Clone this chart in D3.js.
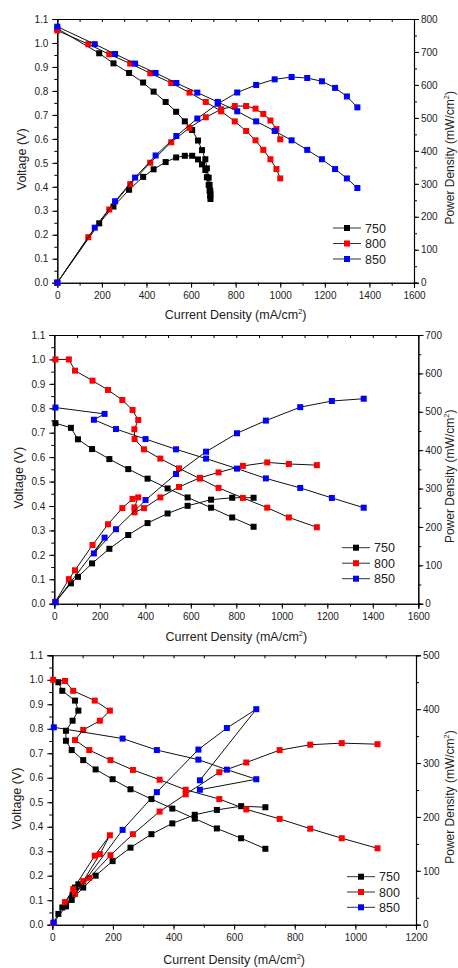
<!DOCTYPE html>
<html>
<head>
<meta charset="utf-8">
<script src="https://cdnjs.cloudflare.com/ajax/libs/d3/7.8.5/d3.min.js"></script>
<style>
  body { margin: 0; background: #fff; }
  text { font-family: "Liberation Sans", Arial, sans-serif; fill: #222; }
</style>
</head>
<body>
<script>

/* Polarisation (V) and power density (P) curves at 750 / 800 / 850 C, three cells */

var series_names = ["750", "800", "850"];
var series_colors = ["#000000", "#ff0000", "#0000ff"];

// ---- top panel
var a750_I = [0, 188, 252, 322, 385, 432, 486, 533, 572, 605, 631, 649, 664, 671, 679, 683, 686, 687];
var a750_V = [1.06, 0.957, 0.915, 0.875, 0.835, 0.797, 0.754, 0.713, 0.673, 0.637, 0.593, 0.553, 0.515, 0.477, 0.438, 0.408, 0.384, 0.370];
var a750_P = [0, 180, 231, 282, 321, 344, 366, 380, 385, 385, 374, 359, 342, 320, 297, 279, 263, 254];

var a800_I = [0, 139, 233, 327, 417, 511, 593, 666, 735, 796, 847, 889, 924, 956, 983, 1000];
var a800_V = [1.052, 0.995, 0.953, 0.914, 0.874, 0.833, 0.793, 0.754, 0.715, 0.673, 0.633, 0.594, 0.554, 0.515, 0.474, 0.435];
var a800_P = [0, 138, 222, 299, 364, 426, 470, 502, 526, 536, 536, 528, 512, 492, 466, 435];

var a850_I = [0, 168, 259, 349, 441, 534, 628, 720, 807, 892, 975, 1051, 1121, 1187, 1246, 1299, 1346];
var a850_V = [1.068, 0.995, 0.954, 0.914, 0.875, 0.833, 0.793, 0.754, 0.715, 0.673, 0.633, 0.594, 0.554, 0.515, 0.474, 0.435, 0.395];
var a850_P = [0, 167, 247, 319, 386, 445, 498, 543, 577, 600, 617, 624, 621, 611, 591, 565, 532];

// ---- middle panel
var b750_I = [5, 73, 104, 166, 242, 325, 410, 498, 586, 689, 782, 876];
var b750_V = [0.739, 0.720, 0.673, 0.633, 0.592, 0.551, 0.512, 0.472, 0.435, 0.393, 0.353, 0.315];
var b750_P = [4, 53, 70, 105, 143, 179, 210, 235, 255, 271, 276, 276];

var b800_I = [5, 64, 91, 168, 236, 299, 344, 369, 352, 353, 394, 466, 548, 640, 722, 829, 936, 1031, 1154];
var b800_V = [1.0, 1.0, 0.954, 0.913, 0.875, 0.834, 0.793, 0.752, 0.714, 0.674, 0.632, 0.594, 0.554, 0.512, 0.474, 0.433, 0.393, 0.353, 0.313];
var b800_P = [5, 64, 87, 153, 207, 249, 273, 277, 251, 238, 249, 277, 304, 328, 342, 359, 368, 364, 361];

var b850_I = [5, 221, 174, 271, 401, 535, 667, 803, 930, 1081, 1220, 1360];
var b850_V = [0.803, 0.777, 0.753, 0.715, 0.674, 0.632, 0.594, 0.553, 0.513, 0.474, 0.433, 0.393];
var b850_P = [4, 172, 131, 194, 270, 338, 396, 444, 477, 512, 528, 534];

// ---- bottom panel
var c750_I = [20, 33, 75, 86, 67, 45, 45, 64, 102, 143, 199, 258, 327, 396, 470, 543, 623, 703];
var c750_V = [0.990, 0.955, 0.915, 0.874, 0.833, 0.792, 0.751, 0.713, 0.672, 0.634, 0.594, 0.553, 0.513, 0.474, 0.433, 0.393, 0.353, 0.310];
var c750_P = [20, 32, 69, 75, 56, 36, 34, 46, 69, 91, 118, 143, 168, 188, 204, 213, 220, 218];

var c800_I = [3, 42, 69, 140, 190, 157, 102, 75, 122, 192, 266, 354, 440, 551, 640, 750, 851, 955, 1073];
var c800_V = [1.0, 0.995, 0.955, 0.915, 0.874, 0.833, 0.795, 0.754, 0.713, 0.672, 0.632, 0.592, 0.551, 0.513, 0.471, 0.432, 0.392, 0.353, 0.312];
var c800_P = [3, 42, 66, 128, 166, 131, 81, 57, 87, 129, 168, 210, 242, 283, 301, 324, 334, 337, 335];

var c850_I = [5, 232, 345, 482, 576, 673, 487];
var c850_V = [0.806, 0.760, 0.713, 0.674, 0.633, 0.594, 0.551];
var c850_P = [4, 176, 246, 325, 365, 400, 268];

var svg = d3.select("body").append("svg")
    .attr("width", 458)
    .attr("height", 968);

// zip current with voltage / power
function pts(I, Y) {
  return I.map(function(d, i) { return [d, Y[i]]; });
}

function axisStyle(sel) {
  sel.selectAll("path").attr("stroke", "#000").attr("stroke-width", 1.1);
  sel.selectAll("line").attr("stroke", "#000").attr("stroke-width", 1);
  sel.selectAll("text")
      .attr("font-family", "'Liberation Sans', Arial, sans-serif")
      .attr("font-size", 10)
      .attr("fill", "#222");
}

function drawPanel(o) {
  var x = d3.scaleLinear().domain([0, o.xMax]).range([o.l, o.r]);
  var y = d3.scaleLinear().domain([0, 1.1]).range([o.b, o.t]);
  var y2 = d3.scaleLinear().domain([0, o.pMax]).range([o.b, o.t]);
  var g = svg.append("g");

  // minor ticks first, no labels
  g.append("g").attr("transform", "translate(0," + o.b + ")")
      .call(d3.axisBottom(x).tickValues(d3.range(0, o.xMax + 1, 100)).tickSize(3).tickFormat(""))
      .call(axisStyle);
  g.append("g").attr("transform", "translate(" + o.l + ",0)")
      .call(d3.axisLeft(y).tickValues(d3.range(0, 1.1001, 0.05)).tickSize(3).tickFormat(""))
      .call(axisStyle);
  g.append("g").attr("transform", "translate(" + o.r + ",0)")
      .call(d3.axisRight(y2).tickValues(d3.range(0, o.pMax + 1, 50)).tickSize(3).tickFormat(""))
      .call(axisStyle);
  // top frame, ticks inward
  g.append("g").attr("transform", "translate(0," + o.t + ")")
      .call(d3.axisBottom(x).tickValues(d3.range(0, o.xMax + 1, 100)).tickSize(3).tickFormat("").tickSizeOuter(0))
      .call(axisStyle);

  // major ticks + labels
  g.append("g").attr("transform", "translate(0," + o.b + ")")
      .call(d3.axisBottom(x).tickValues(d3.range(0, o.xMax + 1, 200)).tickSize(5).tickPadding(4).tickFormat(d3.format("d")))
      .call(axisStyle);
  g.append("g").attr("transform", "translate(" + o.l + ",0)")
      .call(d3.axisLeft(y).tickValues(d3.range(0, 1.1001, 0.1)).tickSize(5).tickPadding(4).tickFormat(d3.format(".1f")))
      .call(axisStyle);
  g.append("g").attr("transform", "translate(" + o.r + ",0)")
      .call(d3.axisRight(y2).tickValues(d3.range(0, o.pMax + 1, 100)).tickSize(5).tickPadding(2).tickFormat(d3.format("d")))
      .call(axisStyle);

  // axis titles
  var xt = g.append("text")
      .attr("x", (o.l + o.r) / 2).attr("y", o.b + o.xtDy)
      .attr("text-anchor", "middle").attr("font-size", 12.5);
  xt.append("tspan").text("Current Density (mA/cm");
  xt.append("tspan").attr("font-size", 7.5).attr("dy", -5).text("2");
  xt.append("tspan").attr("dy", 5).text(")");

  var cy = (o.t + o.b) / 2;
  g.append("text")
      .attr("transform", "translate(" + (o.l - 35.5) + "," + (cy + 8.5) + ") rotate(-90)")
      .attr("text-anchor", "middle").attr("dy", "0.35em").attr("font-size", 12.5)
      .text("Voltage (V)");

  var yt = g.append("text")
      .attr("transform", "translate(" + (o.r + o.rtDx) + "," + (cy + 7) + ") rotate(-90)")
      .attr("text-anchor", "middle").attr("dy", "0.3em").attr("font-size", 12);
  yt.append("tspan").text("Power Density (mW/cm");
  yt.append("tspan").attr("font-size", 7.5).attr("dy", -5).text("2");
  yt.append("tspan").attr("dy", 5).text(")");

  var lineV = d3.line().x(function(d) { return x(d[0]); }).y(function(d) { return y(d[1]); });
  var lineP = d3.line().x(function(d) { return x(d[0]); }).y(function(d) { return y2(d[1]); });

  o.series.forEach(function(s, k) {
    var v = pts(s[0], s[1]);
    var p = pts(s[0], s[2]);
    [[v, lineV, y], [p, lineP, y2]].forEach(function(c) {
      g.append("path")
          .datum(c[0])
          .attr("fill", "none")
          .attr("stroke", "#111")
          .attr("stroke-width", 1)
          .attr("d", c[1]);
      g.selectAll(null)
          .data(c[0])
          .enter().append("rect")
          .attr("x", function(d) { return x(d[0]) - 3; })
          .attr("y", function(d) { return c[2](d[1]) - 3; })
          .attr("width", 6)
          .attr("height", 6)
          .attr("fill", series_colors[k]);
    });
  });

  // legend
  series_names.forEach(function(name, k) {
    var ly = o.legY + k * o.legStep;
    g.append("line")
        .attr("x1", o.legX).attr("x2", o.legX + 28)
        .attr("y1", ly).attr("y2", ly)
        .attr("stroke", "#333").attr("stroke-width", 1);
    g.append("rect")
        .attr("x", o.legX + 14 - 3).attr("y", ly - 3)
        .attr("width", 6).attr("height", 6)
        .attr("fill", series_colors[k]);
    g.append("text")
        .attr("x", o.legX + 32).attr("y", ly)
        .attr("dy", "0.36em").attr("font-size", 12.5)
        .text(name);
  });
}

drawPanel({
  l: 57.3, r: 414, t: 19, b: 282.7, xMax: 1600, pMax: 800, xtDy: 36.5, rtDx: 36,
  legX: 333, legY: 228, legStep: 15.5,
  series: [[a750_I, a750_V, a750_P], [a800_I, a800_V, a800_P], [a850_I, a850_V, a850_P]]
});

drawPanel({
  l: 54.3, r: 418.3, t: 335, b: 603.7, xMax: 1600, pMax: 700, xtDy: 37, rtDx: 32.5,
  legX: 342, legY: 547.7, legStep: 15.5,
  series: [[b750_I, b750_V, b750_P], [b800_I, b800_V, b800_P], [b850_I, b850_V, b850_P]]
});

drawPanel({
  l: 52.3, r: 416, t: 655.3, b: 924.7, xMax: 1200, pMax: 500, xtDy: 39, rtDx: 34,
  legX: 347, legY: 876.7, legStep: 15.3,
  series: [[c750_I, c750_V, c750_P], [c800_I, c800_V, c800_P], [c850_I, c850_V, c850_P]]
});

</script>
</body>
</html>
